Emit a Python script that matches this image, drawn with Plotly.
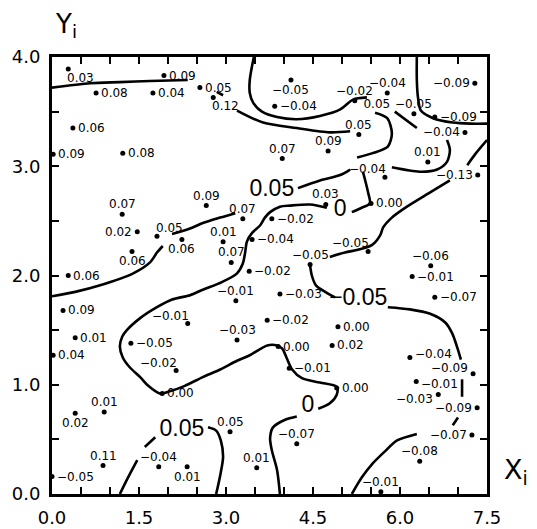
import plotly.graph_objects as go

# ---- sample points (X_i, Y_i) and their values ----
pt_x = [0.28, 0.76, 1.74, 1.93, 0.36, 0.02, 1.22, 2.55, 2.78, 4.12,
        3.84, 3.97, 4.76, 5.22, 5.78, 7.29, 6.24, 6.60, 7.12, 5.29,
        6.48, 5.74, 7.34, 5.50, 5.45, 6.53, 6.21, 6.60, 1.21, 1.47,
        1.81, 1.38, 0.28, 0.19, 0.40, 2.66, 3.29, 2.95, 3.09, 2.24,
        3.79, 3.45, 3.40, 4.72, 4.45, 3.17, 3.93, 2.34, 3.71, 3.19,
        4.93, 4.83, 1.36, 2.14, 1.90, 3.90, 4.09, 4.91, 0.02, 0.40,
        0.90, 0.88, 0.00, 1.84, 3.07, 2.33, 3.53, 4.22, 6.17, 7.26,
        6.28, 6.66, 7.33, 7.24, 6.34, 5.67]
pt_y = [3.89, 3.67, 3.67, 3.83, 3.35, 3.11, 3.12, 3.72, 3.63, 3.79,
        3.55, 3.07, 3.14, 3.60, 3.67, 3.76, 3.48, 3.45, 3.31, 3.29,
        3.04, 2.90, 2.92, 2.66, 2.22, 2.09, 1.99, 1.80, 2.56, 2.40,
        2.36, 2.22, 2.00, 1.68, 1.43, 2.64, 2.52, 2.31, 2.12, 2.33,
        2.52, 2.33, 2.04, 2.65, 2.10, 1.77, 1.83, 1.56, 1.59, 1.41,
        1.53, 1.36, 1.38, 1.13, 0.92, 1.35, 1.15, 0.97, 1.27, 0.74,
        0.75, 0.26, 0.16, 0.25, 0.57, 0.25, 0.24, 0.46, 1.25, 1.10,
        1.03, 0.91, 0.79, 0.54, 0.30, 0.02]
pt_val = [0.03, 0.08, 0.04, 0.09, 0.06, 0.09, 0.08, 0.05, 0.12, -0.05,
          -0.04, 0.07, 0.09, -0.02, -0.04, -0.09, -0.05, -0.09, -0.04, 0.05,
          0.01, -0.04, -0.13, 0.00, -0.05, -0.06, -0.01, -0.07, 0.07, 0.02,
          0.05, 0.06, 0.06, 0.09, 0.01, 0.09, 0.07, 0.01, 0.07, 0.06,
          -0.02, -0.04, -0.02, 0.03, -0.05, -0.01, -0.03, -0.01, -0.02, -0.03,
          0.00, 0.02, -0.05, -0.02, 0.00, 0.00, -0.01, 0.00, 0.04, 0.02,
          0.01, 0.11, -0.05, -0.04, 0.05, 0.01, 0.01, -0.07, -0.04, -0.09,
          -0.01, -0.03, -0.09, -0.07, -0.08, -0.01]
# label placement relative to each dot (style, not data):
# R right, L left, T above, B below, TL/TR/BR diagonal
pt_pos = ["BR", "R", "R", "R", "R", "R", "R", "R", "BR", "B",
          "R", "T", "T", "T", "T", "L", "T", "R", "L", "T",
          "T", "TL", "L", "R", "TL", "T", "R", "R", "T", "L",
          "TR", "B", "R", "R", "R", "T", "T", "T", "T", "B",
          "R", "R", "R", "T", "T", "T", "R", "TL", "R", "T",
          "R", "R", "R", "TL", "R", "R", "R", "R", "R", "B",
          "T", "T", "R", "T", "T", "B", "T", "T", "R", "L",
          "R", "L", "L", "L", "T", "T"]
# extra vertical nudge in px for crowded labels
pt_nudge = [0] * 76
pt_nudge[68] = 3
pt_nudge[69] = 6
pt_nudge[70] = -3
pt_nudge[71] = -4

# ---- contour lines (None = break for a label) ----
c1_x = [0.00, 0.66, 1.17, 1.69, 2.34, None, 2.84, 2.95, None, 3.19, 3.64, 4.22, 4.79, 5.14]
c1_y = [3.72, 3.76, 3.77, 3.78, 3.79, None, 3.68, 3.65, None, 3.51, 3.40, 3.35, 3.31, 3.32]

c2_x = [3.48, 3.41, 3.41, 3.47, 3.62, 3.88, 4.22, 4.62, 4.97, 5.19, 5.43]
c2_y = [4.00, 3.79, 3.67, 3.58, 3.50, 3.45, 3.43, 3.46, 3.52, 3.61, 3.63]

c3_x = [0.00, 0.40, 0.83, 1.40, 1.69, 1.81, 1.91, None, 2.07, 2.38, 2.60, 2.90, 3.16, None,
        4.24, 4.62, 4.97, 5.14, None, 5.26, 5.53, 5.79, 5.86, 5.78, 5.57]
c3_y = [1.81, 1.85, 1.91, 2.02, 2.12, 2.21, 2.27, None, 2.38, 2.43, 2.48, 2.53, 2.57, None,
        2.80, 2.87, 2.92, 2.97, None, 3.08, 3.12, 3.18, 3.30, 3.44, 3.49]

c4_x = [3.93, 3.88, 3.79, 3.76, 3.81, 4.02, 4.22, None,
        4.59, 4.79, 4.91, 4.91, 4.62, 4.31, 4.14, 4.05, 3.97, 3.88, 3.71, 3.41, 3.19, 2.90,
        2.60, 2.29, 2.03, 1.86, 1.66, 1.52, 1.34, 1.22, 1.17, 1.21, 1.29, 1.52, 1.81, 2.07,
        2.38, 2.60, 2.93, 3.19, 3.29, 3.33, 3.36, 3.45, 3.59, 3.67, 3.76, 3.93, 4.10, 4.45,
        4.74, None, 5.17, 5.34, 5.48, 5.45, 5.40, 5.36, None,
        5.86, 6.34, 6.64, 6.81, 6.86, 6.81, None, 6.29, 5.91]
c4_y = [0.00, 0.22, 0.40, 0.51, 0.61, 0.68, 0.71, None,
        0.78, 0.83, 0.91, 0.98, 1.02, 1.06, 1.14, 1.24, 1.33, 1.36, 1.36, 1.27, 1.22, 1.14,
        1.07, 0.99, 0.94, 0.92, 0.99, 1.07, 1.16, 1.25, 1.35, 1.44, 1.50, 1.61, 1.71, 1.78,
        1.82, 1.87, 1.94, 2.02, 2.11, 2.21, 2.31, 2.39, 2.46, 2.53, 2.58, 2.63, 2.64, 2.65,
        2.62, None, 2.58, 2.62, 2.66, 2.76, 2.87, 2.95, None,
        2.99, 2.95, 2.97, 3.04, 3.15, 3.24, None, 3.35, 3.50]

c5_x = [6.29, 6.29, 6.31, 6.36, 6.57, 6.91, 7.21, 7.50]
c5_y = [4.00, 3.79, 3.63, 3.51, 3.44, 3.40, 3.39, 3.39]

c6_x = [7.50, 7.31, 7.16, None, 6.86, 6.52, 6.12, 5.86, 5.71, 5.66, 5.52, 5.31, 5.05, 4.79, None,
        4.45, 4.48, 4.55, 4.71, 4.88, None, 5.79, 6.17, 6.52, 6.78, 6.90, 7.00, 7.05, None,
        7.07, 7.07, None, 7.00, 6.91, None, 6.29, 5.95, 5.74, 5.53, 5.34, 5.17]
c6_y = [3.24, 3.12, 3.01, None, 2.87, 2.76, 2.63, 2.53, 2.44, 2.37, 2.28, 2.24, 2.21, 2.17, None,
        2.09, 2.00, 1.91, 1.85, 1.80, None, 1.71, 1.69, 1.65, 1.57, 1.47, 1.32, 1.23, None,
        1.05, 0.89, None, 0.70, 0.63, None, 0.55, 0.49, 0.39, 0.28, 0.15, 0.00]

c7_x = [1.17, 1.31, 1.47, None, 1.60, 1.78, None, 2.69, 2.83, 2.91, 2.95, 2.90, 2.83]
c7_y = [0.00, 0.15, 0.31, None, 0.43, 0.52, None, 0.61, 0.58, 0.49, 0.34, 0.17, 0.00]

contours = [(c1_x, c1_y), (c2_x, c2_y), (c3_x, c3_y), (c4_x, c4_y),
            (c5_x, c5_y), (c6_x, c6_y), (c7_x, c7_y)]

# contour level labels
lab_x = [3.79, 4.97, 5.28, 4.41, 2.24]
lab_y = [2.78, 2.60, 1.78, 0.80, 0.58]
lab_text = ["0.05", "0", "−0.05", "0", "0.05"]
small_lab_x = [5.60]
small_lab_y = [3.56]
small_lab_text = ["0.05"]

x_ticks = [0.0, 1.5, 3.0, 4.5, 6.0, 7.5]
x_labels = ["0.0", "1.5", "3.0", "4.5", "6.0", "7.5"]
y_ticks = [0.0, 1.0, 2.0, 3.0, 4.0]
y_labels = ["0.0", "1.0", "2.0", "3.0", "4.0"]

fig = go.Figure()

for cx, cy in contours:
    fig.add_trace(go.Scatter(x=cx, y=cy, mode="lines", connectgaps=False,
                             line=dict(color="black", width=2.6, shape="spline", smoothing=0.8),
                             hoverinfo="skip", showlegend=False))

fig.add_trace(go.Scatter(x=pt_x, y=pt_y, mode="markers",
                         marker=dict(color="black", size=5), cliponaxis=False,
                         showlegend=False))

fmt = lambda v: f"{v:.2f}".replace("-", "−")
anchor = {
    "R": ("left", "middle", 4, 0), "L": ("right", "middle", -4, 0),
    "T": ("center", "bottom", 0, 2), "B": ("center", "top", 0, -2),
    "TL": ("right", "bottom", 2, 0), "TR": ("left", "bottom", -2, 0),
    "BR": ("left", "top", -2, -1),
}
for x, y, v, p, n in zip(pt_x, pt_y, pt_val, pt_pos, pt_nudge):
    xa, ya, dx, dy = anchor[p]
    fig.add_annotation(x=x, y=y, xref="x", yref="y", text=fmt(v), showarrow=False,
                       xanchor=xa, yanchor=ya, xshift=dx, yshift=dy + n, borderpad=0,
                       font=dict(family="DejaVu Sans", size=12, color="black"))

fig.add_trace(go.Scatter(x=lab_x, y=lab_y, mode="text", text=lab_text,
                         textfont=dict(family="Liberation Sans", size=23, color="black"),
                         showlegend=False, cliponaxis=False))
fig.add_trace(go.Scatter(x=small_lab_x, y=small_lab_y, mode="text", text=small_lab_text,
                         textfont=dict(family="DejaVu Sans", size=12, color="black"),
                         showlegend=False, cliponaxis=False))

axis_common = dict(showline=True, linewidth=3, linecolor="black", mirror="allticks",
                   ticks="inside", ticklen=7, tickwidth=2, tickcolor="black",
                   showgrid=False, zeroline=False, automargin=False,
                   minor=dict(ticks="inside", ticklen=7, tickwidth=2, tickcolor="black",
                              dtick=0.5, tick0=0, showgrid=False),
                   tickfont=dict(family="DejaVu Sans", size=18, color="black"))
fig.update_xaxes(range=[0, 7.5], tickvals=x_ticks, ticktext=x_labels,
                 ticklabelstandoff=5, **axis_common)
fig.update_yaxes(range=[0, 4.0], tickvals=y_ticks, ticktext=y_labels,
                 ticklabelstandoff=5, **axis_common)

fig.add_annotation(x=0.002, y=1.115, xref="paper", yref="paper", text="Y<sub>i</sub>",
                   showarrow=False, xanchor="left", yanchor="top",
                   font=dict(family="DejaVu Sans", size=26, color="black"))
fig.add_annotation(x=1.035, y=0.097, xref="paper", yref="paper", text="X<sub>i</sub>",
                   showarrow=False, xanchor="left", yanchor="top",
                   font=dict(family="DejaVu Sans", size=27, color="black"))

fig.update_layout(width=537, height=529, margin=dict(l=52, r=50, t=57, b=35),
                  plot_bgcolor="white", paper_bgcolor="white")

fig.write_html("out.html")
